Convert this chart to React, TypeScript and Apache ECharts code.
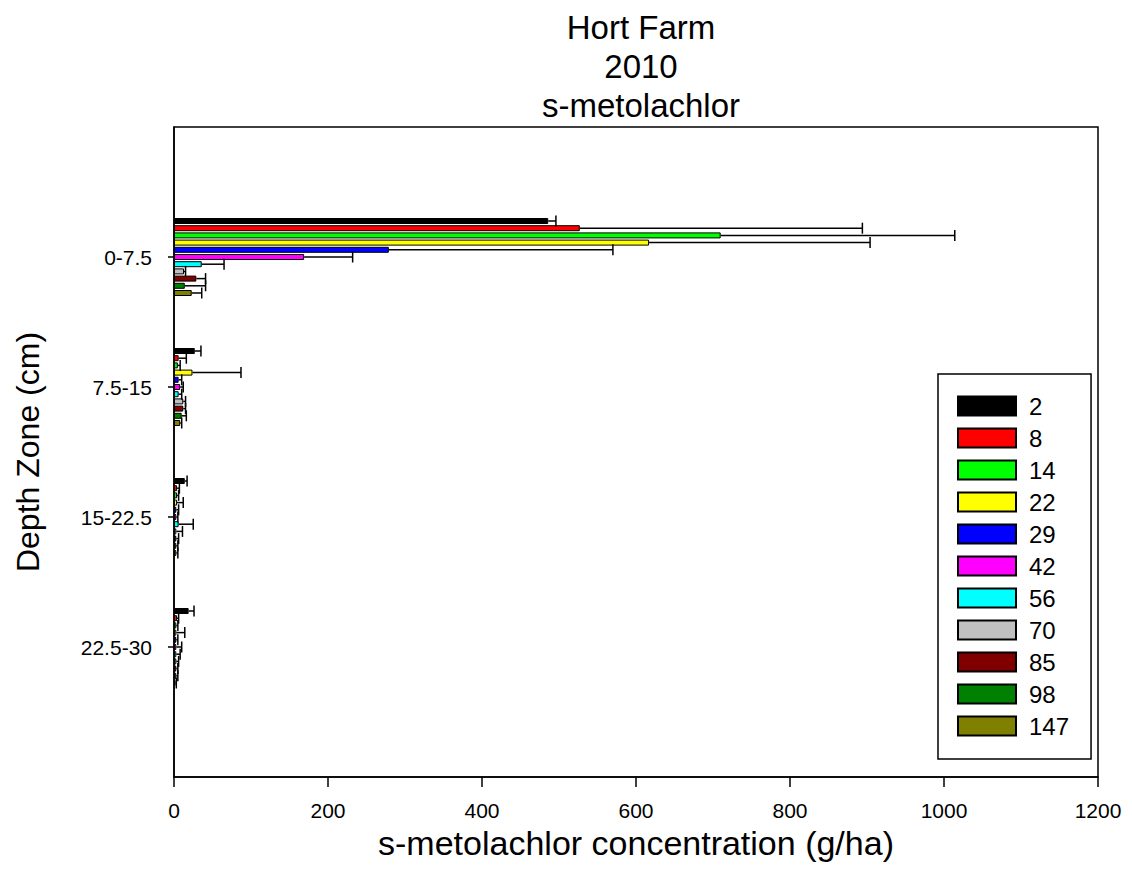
import React, { useEffect, useRef } from "react";
import * as echarts from "echarts";

// Depth zones (y categories) and sampling days (series)
const depthZones = ["0-7.5", "7.5-15", "15-22.5", "22.5-30"];
const days = ["2", "8", "14", "22", "29", "42", "56", "70", "85", "98", "147"];
const dayColors = [
  "#000000", "#ff0000", "#00ff00", "#ffff00", "#0000ff", "#ff00ff",
  "#00ffff", "#c0c0c0", "#800000", "#008000", "#808000",
];

// Mean concentration (g/ha) per depth zone, one array per sampling day
const conc2 = [486, 27, 14, 19];
const conc8 = [527, 6, 4, 4];
const conc14 = [710, 5, 4, 3];
const conc22 = [617, 24, 4, 3];
const conc29 = [279, 6, 3, 3];
const conc42 = [169, 8, 3, 3];
const conc56 = [36, 6, 6, 3];
const conc70 = [13, 12, 3, 3];
const conc85 = [29, 12, 3, 3];
const conc98 = [14, 10, 3, 3];
const conc147 = [23, 8, 3, 2];

// Upper error (g/ha) per depth zone
const err2 = [10, 8, 3, 7];
const err8 = [367, 10, 3, 2];
const err14 = [304, 3, 2, 2];
const err22 = [287, 63, 8, 11];
const err29 = [291, 4, 3, 2];
const err42 = [63, 4, 2, 7];
const err56 = [29, 4, 19, 5];
const err70 = [2, 3, 8, 3];
const err85 = [12, 3, 3, 2];
const err98 = [27, 6, 2, 2];
const err147 = [13, 2, 2, 1];

const xTicks = [0, 200, 400, 600, 800, 1000, 1200];

const concs = [conc2, conc8, conc14, conc22, conc29, conc42, conc56, conc70, conc85, conc98, conc147];
const errs = [err2, err8, err14, err22, err29, err42, err56, err70, err85, err98, err147];

const FONT = "'Liberation Sans', Arial, sans-serif";
const BAR_W = 6;
const BAR_GAP = 0.2;
const STEP = BAR_W * (1 + BAR_GAP);

export default function App() {
  const ref = useRef<HTMLDivElement>(null);

  useEffect(() => {
    if (!ref.current) return;
    const chart = echarts.init(ref.current, null, { renderer: "svg" });

    // padded category list so the four zones sit between empty bands
    const yCats = ["", ...depthZones, " "];

    const barSeries = days.map((d, s) => ({
      name: d,
      type: "bar",
      barWidth: BAR_W,
      barGap: `${BAR_GAP * 100}%`,
      itemStyle: { color: dayColors[s], borderColor: "#000", borderWidth: 1 },
      data: concs[s].map((v, i) => [v, i + 1]),
    }));

    const errData: number[][] = [];
    days.forEach((_, s) => {
      concs[s].forEach((v, i) => errData.push([v, i + 1, errs[s][i], s]));
    });

    const nSeries = days.length;
    const errSeries = {
      type: "custom",
      name: "error",
      encode: { x: 0, y: 1 },
      data: errData,
      z: 3,
      renderItem: (params: any, api: any) => {
        const v = api.value(0);
        const cat = api.value(1);
        const e = api.value(2);
        const s = api.value(3);
        const p0 = api.coord([v, cat]);
        const p1 = api.coord([v + e, cat]);
        const y = p0[1] + (s - (nSeries - 1) / 2) * STEP;
        const st = { stroke: "#000", lineWidth: 1.5 };
        return {
          type: "group",
          children: [
            { type: "line", shape: { x1: p0[0], y1: y, x2: p1[0], y2: y }, style: st },
            { type: "line", shape: { x1: p1[0], y1: y - 5.5, x2: p1[0], y2: y + 5.5 }, style: st },
          ],
        };
      },
    };

    chart.setOption({
      animation: false,
      backgroundColor: "#fff",
      title: {
        text: "Hort Farm\n2010\ns-metolachlor",
        left: 636,
        top: 3,
        textAlign: "center",
        textStyle: { fontFamily: FONT, fontSize: 33, fontWeight: "normal", color: "#000", lineHeight: 39 },
      },
      grid: {
        left: 174,
        right: 34,
        top: 127,
        bottom: 113,
        show: true,
        borderColor: "#000",
        borderWidth: 1.5,
        backgroundColor: "transparent",
      },
      legend: {
        data: days.map((d) => ({ name: d, icon: "rect" })),
        orient: "vertical",
        left: 938,
        top: 374,
        itemWidth: 58,
        itemHeight: 19,
        itemGap: 8,
        padding: [20, 22, 21, 19],
        borderColor: "#000",
        borderWidth: 1.5,
        textStyle: { fontFamily: FONT, fontSize: 24, color: "#000", padding: [0, 0, 0, 8] },
      },
      xAxis: {
        type: "value",
        min: 0,
        max: 1200,
        interval: 200,
        name: "s-metolachlor concentration (g/ha)",
        nameLocation: "middle",
        nameGap: 35,
        nameTextStyle: { fontFamily: FONT, fontSize: 34, color: "#000" },
        axisLine: { show: true, lineStyle: { color: "#000", width: 1.5 } },
        axisTick: { show: true, length: 10, lineStyle: { color: "#000", width: 1.5 } },
        axisLabel: {
          fontFamily: FONT,
          fontSize: 21,
          color: "#000",
          margin: 23,
          formatter: (v: number) => (xTicks.includes(v) ? String(v) : ""),
        },
        splitLine: { show: false },
      },
      yAxis: {
        type: "category",
        data: yCats,
        inverse: true,
        boundaryGap: false,
        name: "Depth Zone (cm)",
        nameLocation: "middle",
        nameGap: 130,
        nameTextStyle: { fontFamily: FONT, fontSize: 32, color: "#000" },
        axisLine: { show: true, lineStyle: { color: "#000", width: 1.5 } },
        axisTick: {
          show: true,
          length: 6,
          interval: (idx: number) => idx > 0 && idx < yCats.length - 1,
          lineStyle: { color: "#000", width: 1.5 },
        },
        axisLabel: {
          fontFamily: FONT,
          fontSize: 21,
          color: "#000",
          margin: 22,
          interval: (idx: number) => idx > 0 && idx < yCats.length - 1,
        },
        splitLine: { show: false },
      },
      series: [...barSeries, errSeries],
    });

    return () => chart.dispose();
  }, []);

  return (
    <div
      ref={ref}
      style={{ position: "absolute", left: 0, top: 0, width: 1132, height: 890, background: "#fff" }}
    />
  );
}
